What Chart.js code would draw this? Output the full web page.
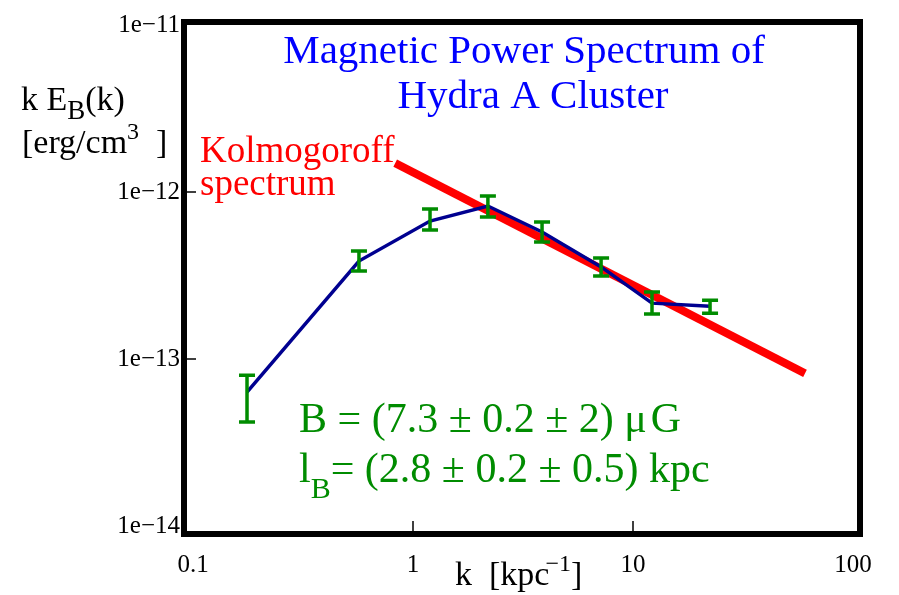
<!DOCTYPE html>
<html>
<head>
<meta charset="utf-8">
<script src="https://cdn.jsdelivr.net/npm/chart.js@4.4.1/dist/chart.umd.min.js"></script>
<style>
  body { margin: 0; background: #fff; }
  canvas { display: block; }
</style>
</head>
<body>
<canvas id="spectrum" width="899" height="595"></canvas>
<script>
// measured spectrum: k [1/kpc] and k*E_B(k) [erg/cm^3]
var kVals  = [0.176, 0.568, 1.195, 2.19, 3.86, 7.16, 12.2, 22.4];
var ebVals = [6.34e-14, 3.86e-13, 6.7e-13, 8.24e-13, 5.76e-13, 3.56e-13, 2.16e-13, 2.07e-13];
var ebLow  = [4.2e-14, 3.37e-13, 5.92e-13, 7.08e-13, 5.02e-13, 3.14e-13, 1.86e-13, 1.88e-13];
var ebHigh = [8.0e-14, 4.44e-13, 7.91e-13, 9.46e-13, 6.61e-13, 4.03e-13, 2.52e-13, 2.25e-13];

// Kolmogoroff k^(-2/3) reference line, end points
var kolmoK = [0.83, 60.5];
var kolmoE = [1.49e-12, 8.2e-14];

var xTicks = [0.1, 1, 10, 100];
var xTickLabels = ['0.1', '1', '10', '100'];
var yTicks = [1e-11, 1e-12, 1e-13, 1e-14];
var yTickLabels = ['1e\u221211', '1e\u221212', '1e\u221213', '1e\u221214'];

var SERIF = "'Liberation Serif', 'Times New Roman', 'DejaVu Serif', serif";
var GREEN = '#008c00';

function pts(xs, ys) {
  return xs.map(function(x, i) { return { x: x, y: ys[i] }; });
}

// draw text made of pieces with sub/superscripts
function drawParts(ctx, parts, x, y, color) {
  ctx.fillStyle = color;
  ctx.textAlign = 'left';
  ctx.textBaseline = 'alphabetic';
  var cx = x;
  parts.forEach(function(p) {
    ctx.font = p.size + 'px ' + SERIF;
    cx += (p.dx || 0);
    ctx.fillText(p.t, cx, y + (p.dy || 0));
    cx += ctx.measureText(p.t).width;
  });
}

var errorBars = {
  id: 'errorBars',
  afterDatasetsDraw: function(chart) {
    var ctx = chart.ctx;
    var xs = chart.scales.x, ys = chart.scales.y;
    ctx.save();
    ctx.strokeStyle = GREEN;
    ctx.lineWidth = 3.5;
    for (var i = 0; i < kVals.length; i++) {
      var px = xs.getPixelForValue(kVals[i]);
      var y1 = ys.getPixelForValue(ebHigh[i]);
      var y2 = ys.getPixelForValue(ebLow[i]);
      ctx.beginPath();
      ctx.moveTo(px, y1); ctx.lineTo(px, y2);
      ctx.moveTo(px - 8, y1); ctx.lineTo(px + 8, y1);
      ctx.moveTo(px - 8, y2); ctx.lineTo(px + 8, y2);
      ctx.stroke();
    }
    ctx.restore();
  }
};

var frameAndText = {
  id: 'frameAndText',
  afterDraw: function(chart) {
    var ctx = chart.ctx;
    var a = chart.chartArea;
    var xs = chart.scales.x, ys = chart.scales.y;
    var fl = a.left - 9, fr = a.right + 7, ft = a.top - 3, fb = a.bottom + 8;
    ctx.save();

    // heavy frame
    ctx.strokeStyle = '#000';
    ctx.lineWidth = 6;
    ctx.strokeRect(fl, ft, fr - fl, fb - ft);

    // small inner ticks, only for the inner decades
    ctx.lineWidth = 1.5;
    ctx.beginPath();
    xTicks.forEach(function(v, i) {
      if (i === 0 || i === xTicks.length - 1) return;
      var px = xs.getPixelForValue(v);
      ctx.moveTo(px, fb - 3); ctx.lineTo(px, fb - 13);
    });
    yTicks.forEach(function(v, i) {
      if (i === 0 || i === yTicks.length - 1) return;
      var py = ys.getPixelForValue(v);
      ctx.moveTo(fl + 3, py); ctx.lineTo(fl + 12, py);
    });
    ctx.stroke();

    // tick labels
    ctx.fillStyle = '#000';
    ctx.font = '25px ' + SERIF;
    ctx.textAlign = 'right';
    ctx.textBaseline = 'middle';
    yTicks.forEach(function(v, i) {
      ctx.fillText(yTickLabels[i], 180, ys.getPixelForValue(v));
    });
    ctx.textAlign = 'center';
    ctx.textBaseline = 'alphabetic';
    xTicks.forEach(function(v, i) {
      ctx.fillText(xTickLabels[i], xs.getPixelForValue(v), 572);
    });

    // axis titles
    drawParts(ctx, [{ t: 'k E', size: 34 }, { t: 'B', size: 27, dy: 9 }, { t: '(k)', size: 34 }], 21, 110, '#000');
    drawParts(ctx, [{ t: '[erg/cm', size: 34 }, { t: '3', size: 24, dy: -14 }, { t: '  ]', size: 34 }], 22, 153, '#000');
    drawParts(ctx, [{ t: 'k  [kpc', size: 34 }, { t: '\u22121', size: 24, dy: -14, dx: -4 }, { t: ']', size: 34 }], 455, 585, '#000');

    // title
    ctx.fillStyle = '#0000ff';
    ctx.font = '41px ' + SERIF;
    ctx.textAlign = 'center';
    ctx.fillText('Magnetic Power Spectrum of', 524, 63);
    ctx.fillText('Hydra A Cluster', 533, 108);

    // reference line label
    ctx.fillStyle = '#ff0000';
    ctx.font = '37px ' + SERIF;
    ctx.textAlign = 'left';
    ctx.fillText('Kolmogoroff', 200, 162);
    ctx.fillText('spectrum', 200, 195);

    // fit results
    drawParts(ctx, [{ t: 'B = (7.3 \u00b1 0.2 \u00b1 2) \u03bc', size: 42 }, { t: 'G', size: 42, dx: 4 }], 299, 432, GREEN);
    drawParts(ctx, [{ t: 'l', size: 42 }, { t: 'B', size: 30, dy: 16 }, { t: '= (2.8 \u00b1 0.2 \u00b1 0.5) kpc', size: 42 }], 299, 482, GREEN);

    ctx.restore();
  }
};

var chart = new Chart(document.getElementById('spectrum'), {
  type: 'scatter',
  data: {
    datasets: [
      {
        label: 'Hydra A',
        data: pts(kVals, ebVals),
        showLine: true,
        borderColor: '#000090',
        borderWidth: 3.5,
        pointRadius: 0,
        clip: false,
        order: 1
      },
      {
        label: 'Kolmogoroff',
        data: pts(kolmoK, kolmoE),
        showLine: true,
        borderColor: '#ff0000',
        borderWidth: 8,
        pointRadius: 0,
        clip: false,
        order: 2
      }
    ]
  },
  options: {
    responsive: false,
    animation: false,
    layout: { padding: { left: 193, right: 46, top: 25, bottom: 69 } },
    plugins: { legend: { display: false }, tooltip: { enabled: false } },
    scales: {
      x: { type: 'logarithmic', min: 0.1, max: 100, display: false },
      y: { type: 'logarithmic', min: 1e-14, max: 1e-11, display: false }
    }
  },
  plugins: [errorBars, frameAndText]
});
</script>
</body>
</html>
